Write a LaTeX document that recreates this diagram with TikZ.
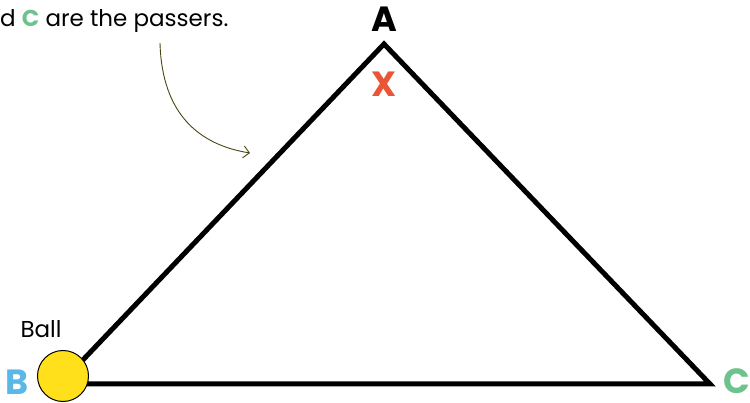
\documentclass[tikz,border=0pt]{standalone}
\usepackage{fontspec}
\setmainfont{Poppins}
\usetikzlibrary{arrows.meta}
\definecolor{cblue}{HTML}{5BB8E6}
\definecolor{cgreen}{HTML}{6DC38D}
\definecolor{cred}{HTML}{EA5536}
\definecolor{cball}{HTML}{FFE01A}
\definecolor{colive}{HTML}{4A4512}
\begin{document}
\begin{tikzpicture}[x=1pt,y=-1pt,
  tri/.style={line width=5pt,line join=miter,black},
  biglabel/.style={font=\fontsize{35}{35}\selectfont\bfseries,inner sep=0pt,text depth=0pt,anchor=base},
  smalllabel/.style={font=\fontsize{23}{26}\selectfont,inner sep=0pt}]
\useasboundingbox (0,0) rectangle (750,403);
\coordinate (pA) at (384,44);
\coordinate (pB) at (60,384);
\coordinate (pC) at (710,384);
\draw[tri] (pA) -- (pB) -- (pC) -- cycle;
\node[draw=black,line width=1pt,fill=cball,circle,minimum size=51pt,inner sep=0pt] (ball) at (63,376) {};
\node[biglabel] (A) at (384,32) {A};
\node[biglabel,text=cblue] (B) at (17,395) {B};
\node[biglabel,text=cgreen] (C) at (737,394) {C};
\node[biglabel,text=cred] (X) at (384,97) {X};
\node[smalllabel,anchor=base] (ballt) at (41,338) {Ball};
\node[smalllabel,anchor=base west] (txt) at (0,27) {d \textcolor{cgreen}{\bfseries C} are the passers.};
\coordinate (arrs) at (160,43);
\coordinate (arre) at (250,153);
\draw[colive,line width=0.9pt,-{Straight Barb[length=6pt,width=12pt]}] (arrs) .. controls (162,115) and (200,145) .. (arre);
\end{tikzpicture}
\end{document}
